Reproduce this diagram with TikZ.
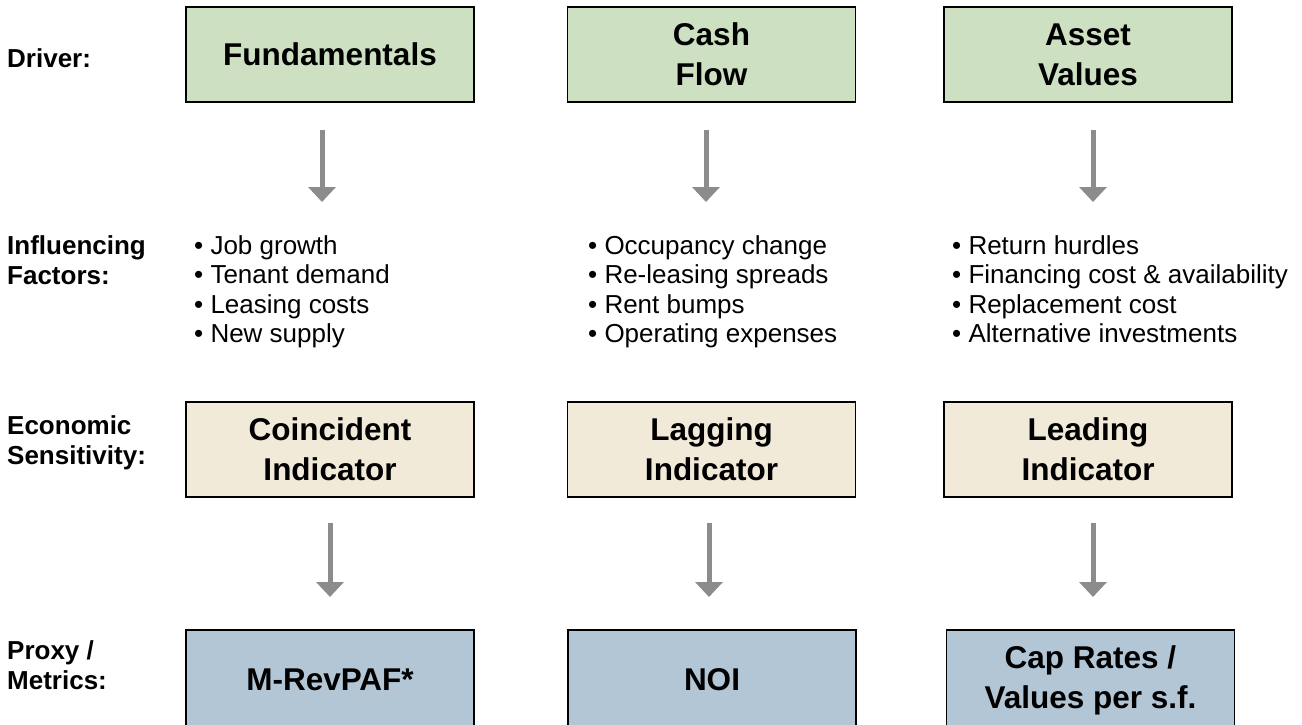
\documentclass[tikz,border=0pt]{standalone}
\usepackage{fontspec}
\setmainfont{Liberation Sans}
\usepackage{xcolor}
\usetikzlibrary{positioning, arrows.meta}
\definecolor{drivergreen}{RGB}{205,224,193}
\definecolor{sensetan}{RGB}{242,234,216}
\definecolor{metricblue}{RGB}{179,198,214}
\definecolor{arrowgray}{RGB}{140,140,140}
\tikzstyle{box} = [rectangle, minimum width=288pt, minimum height=95pt, inner sep=0pt, text centered, align=center, draw=black, line width=1.3pt, font=\fontsize{31.5}{40}\selectfont\bfseries]
\tikzstyle{driver} = [box, fill=drivergreen]
\tikzstyle{sensitivity} = [box, fill=sensetan]
\tikzstyle{metric} = [box, fill=metricblue, minimum height=100pt]
\tikzstyle{rowlabel} = [anchor=west, align=left, inner sep=0pt, font=\fontsize{26}{30}\selectfont\bfseries]
\tikzstyle{factors} = [anchor=north west, align=left, inner sep=0pt, font=\fontsize{26}{29.5}\selectfont]
\tikzstyle{arrow} = [line width=5pt, draw=arrowgray, -{Triangle[width=27pt,length=15pt]}]

\begin{document}
\begin{tikzpicture}[x=1pt, y=-1pt]
          \useasboundingbox (0,0) rectangle (1302,725);
          % row labels
          \node (lbldriver) [rowlabel] at (7,58) {Driver:};
          \node (lblfactors) [rowlabel] at (7,260) {Influencing\\Factors:};
          \node (lblsens) [rowlabel] at (7,443) {Economic\\Sensitivity:};
          \node (lblproxy) [rowlabel] at (7,665) {Proxy /\\Metrics:};

          % drivers
          \node (fund) [driver] at (330,54.5) {Fundamentals};
          \node (cash) [driver] at (711.5,54.5) {Cash\\Flow};
          \node (asset) [driver] at (1088,54.5) {Asset\\Values};

          % influencing factors
          \node (fundfac) [factors] at (194,235) {• Job growth\\• Tenant demand\\• Leasing costs\\• New supply};
          \node (cashfac) [factors] at (588,235) {• Occupancy change\\• Re-leasing spreads\\• Rent bumps\\• Operating expenses};
          \node (assetfac) [factors] at (952,235) {• Return hurdles\\• Financing cost \& availability\\• Replacement cost\\• Alternative investments};

          % sensitivity
          \node (coinc) [sensitivity] at (330,449.5) {Coincident\\Indicator};
          \node (lag) [sensitivity] at (711.5,449.5) {Lagging\\Indicator};
          \node (lead) [sensitivity] at (1088,449.5) {Leading\\Indicator};

          % metrics (bottom edge runs off the page)
          \node (revpaf) [metric] at (330,680) {M-RevPAF*};
          \node (noi) [metric] at (712,680) {NOI};
          \node (caprate) [metric] at (1090.5,680) {Cap Rates /\\Values per s.f.};

          % arrow ends
          \coordinate (fundout) at (322,130);
          \coordinate (fundin) at (322,202);
          \coordinate (cashout) at (706,130);
          \coordinate (cashin) at (706,202);
          \coordinate (assetout) at (1093,130);
          \coordinate (assetin) at (1093,202);
          \coordinate (coincout) at (330,523);
          \coordinate (coincin) at (330,597);
          \coordinate (lagout) at (709,523);
          \coordinate (lagin) at (709,597);
          \coordinate (leadout) at (1093,523);
          \coordinate (leadin) at (1093,597);

          \draw [arrow] (fundout) -- (fundin);
          \draw [arrow] (cashout) -- (cashin);
          \draw [arrow] (assetout) -- (assetin);
          \draw [arrow] (coincout) -- (coincin);
          \draw [arrow] (lagout) -- (lagin);
          \draw [arrow] (leadout) -- (leadin);
        \end{tikzpicture}
\end{document}
